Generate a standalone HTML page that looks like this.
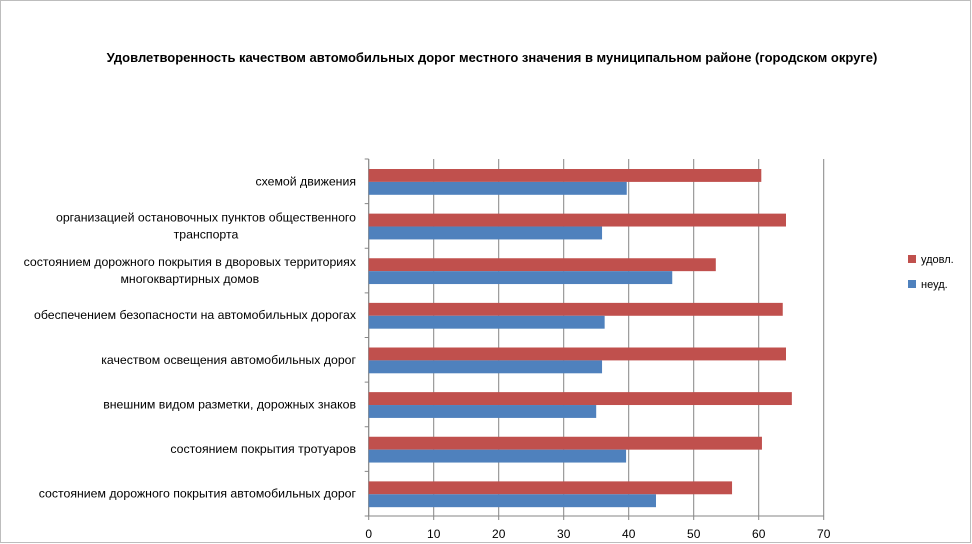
<!DOCTYPE html>
<html><head><meta charset="utf-8"><style>
body{margin:0;background:#fff;}
svg{display:block;font-family:"Liberation Sans","DejaVu Sans",sans-serif;}
</style></head><body>
<svg id="chart" width="972" height="544">
<rect x="0.5" y="0.5" width="970" height="542" fill="#fff" stroke="#bdbdbd"/>
<text x="492" y="62" text-anchor="middle" font-size="13" font-weight="bold">Удовлетворенность качеством автомобильных дорог местного значения в муниципальном районе (городском округе)</text>
<g id="grid"></g><g id="bars"></g><g id="labels"></g>
<g>
<rect x="908" y="255" width="8" height="8" fill="#c0504d"/>
<text x="921" y="263" font-size="11">удовл.</text>
<rect x="908" y="280" width="8" height="8" fill="#4f81bd"/>
<text x="921" y="288" font-size="11">неуд.</text>
</g>
</svg>
<script>
const categories=[["схемой движения "],["организацией остановочных пунктов общественного","транспорта"],["состоянием дорожного покрытия в дворовых территориях","многоквартирных домов"],["обеспечением  безопасности на автомобильных дорогах"],["качеством освещения  автомобильных дорог"],["внешним  видом разметки, дорожных знаков"],["состоянием  покрытия тротуаров"],["состоянием дорожного покрытия автомобильных дорог"]];
const udovl=[60.4,64.2,53.4,63.7,64.2,65.1,60.5,55.9];
const neud=[39.7,35.9,46.7,36.3,35.9,35.0,39.6,44.2];
const ticks=[0,10,20,30,40,50,60,70];
(function(){
const NS="http://www.w3.org/2000/svg";
const x0=368.7,x1=823.7,xmax=70,pTop=159,pBot=516;
const band=(pBot-pTop)/categories.length;
function xs(v){return x0+(x1-x0)*v/xmax;}
function mk(t,a,parent){const e=document.createElementNS(NS,t);for(const k in a)e.setAttribute(k,a[k]);document.getElementById(parent).appendChild(e);return e;}
ticks.forEach(t=>{
 const g=mk('line',{x1:xs(t),x2:xs(t),y1:pTop,y2:pBot+4,stroke:'#868686','stroke-width':1},'grid');
 
 
 const l=mk('text',{x:xs(t),y:pBot+22,'text-anchor':'middle','font-size':12},'labels');
 l.textContent=t;
 
 
});
const ax=mk('line',{x1:x0,x2:x0,y1:pTop,y2:pBot,stroke:'#868686'},'grid');


const bx=mk('line',{x1:x0,x2:x1,y1:pBot,y2:pBot,stroke:'#868686'},'grid');


for(let i=0;i<=categories.length;i++){
 const tk=mk('line',{x1:x0-4,x2:x0,y1:pTop+band*i,y2:pTop+band*i,stroke:'#868686'},'grid');
 
 
}
const bh=12.9;
categories.forEach((c,i)=>{
 const y=pTop+band*i+10;
 const r=mk('rect',{x:x0,y:y,width:xs(udovl[i])-x0,height:bh,fill:'#c0504d'},'bars');
 
 
 const b=mk('rect',{x:x0,y:y+bh,width:xs(neud[i])-x0,height:bh,fill:'#4f81bd'},'bars');
 
 
 const cy=pTop+band*i+band/2;
 const n=c.length;
 const group=[];
 c.forEach((line,j)=>{
  const t=mk('text',{x:0,y:cy+4+(j-(n-1)/2)*17,'text-anchor':'start','font-size':12.3},'labels');
  t.textContent=line;
  
  
  group.push(t);
 });
 let ws=group.map((t,j)=>{try{return t.getComputedTextLength();}catch(e){return c[j].length*6.5;}});
 const maxw=Math.max(...ws);
 group.forEach((t,j)=>{t.setAttribute('x',356-maxw+(maxw-ws[j])/2);});
});
})();
</script>
</body></html>
